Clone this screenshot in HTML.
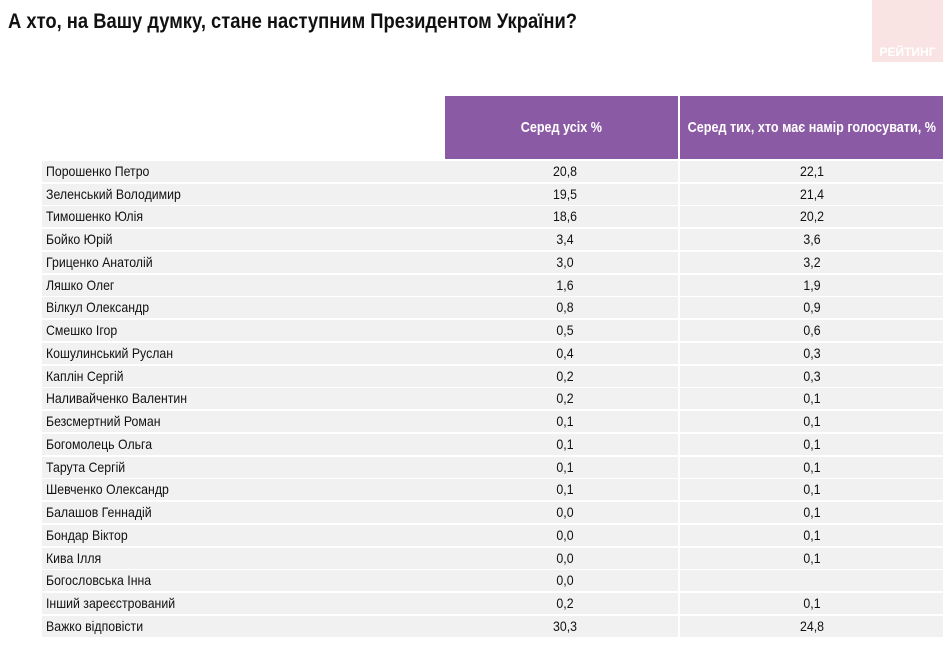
<!DOCTYPE html>
<html><head><meta charset="utf-8"><style>
body{margin:0;width:951px;height:645px;overflow:hidden;background:#fff;position:relative;font-family:"Liberation Sans",sans-serif;}
.t{position:absolute;left:8px;top:10px;font-size:21px;font-weight:bold;color:#111;white-space:nowrap;transform:scaleX(0.875);transform-origin:left top;}
.logo{position:absolute;left:872px;top:0;width:71px;height:62px;background:#f9e3e3;}
.logo span{position:absolute;bottom:3px;left:0;width:71px;text-align:center;color:#fff;font-weight:bold;font-size:12px;}
.h{position:absolute;top:96px;height:63px;background:#8b5aa5;color:#fff;font-size:15px;font-weight:bold;display:flex;align-items:center;justify-content:center;white-space:nowrap;}
.h span{display:inline-block;transform:scaleX(0.84);}
.r{position:absolute;left:42px;width:901px;height:21px;background:#f1f1f1;font-size:14px;color:#111;}
.r div{position:absolute;top:2px;white-space:nowrap;}
.n{left:4px;transform:scaleX(0.88);transform-origin:left top;}
.a{left:403px;width:240px;text-align:center;transform:scaleX(0.88);}
.b{left:639px;width:262px;text-align:center;transform:scaleX(0.88);}
.s{position:absolute;left:678px;width:2px;background:#fff;}
</style></head><body>
<div class="t">А хто, на Вашу думку, стане наступним Президентом України?</div>
<div class="logo"><span>РЕЙТИНГ</span></div>
<div class="h" style="left:445px;width:233px"><span>Серед усіх %</span></div>
<div class="h" style="left:680px;width:263px"><span>Серед тих, хто має намір голосувати, %</span></div>
<div class="r" style="top:161px"><div class="n">Порошенко Петро</div><div class="a">20,8</div><div class="b">22,1</div></div>
<div class="r" style="top:184px"><div class="n">Зеленський Володимир</div><div class="a">19,5</div><div class="b">21,4</div></div>
<div class="r" style="top:206px"><div class="n">Тимошенко Юлія</div><div class="a">18,6</div><div class="b">20,2</div></div>
<div class="r" style="top:229px"><div class="n">Бойко Юрій</div><div class="a">3,4</div><div class="b">3,6</div></div>
<div class="r" style="top:252px"><div class="n">Гриценко Анатолій</div><div class="a">3,0</div><div class="b">3,2</div></div>
<div class="r" style="top:275px"><div class="n">Ляшко Олег</div><div class="a">1,6</div><div class="b">1,9</div></div>
<div class="r" style="top:297px"><div class="n">Вілкул Олександр</div><div class="a">0,8</div><div class="b">0,9</div></div>
<div class="r" style="top:320px"><div class="n">Смешко Ігор</div><div class="a">0,5</div><div class="b">0,6</div></div>
<div class="r" style="top:343px"><div class="n">Кошулинський Руслан</div><div class="a">0,4</div><div class="b">0,3</div></div>
<div class="r" style="top:366px"><div class="n">Каплін Сергій</div><div class="a">0,2</div><div class="b">0,3</div></div>
<div class="r" style="top:388px"><div class="n">Наливайченко Валентин</div><div class="a">0,2</div><div class="b">0,1</div></div>
<div class="r" style="top:411px"><div class="n">Безсмертний Роман</div><div class="a">0,1</div><div class="b">0,1</div></div>
<div class="r" style="top:434px"><div class="n">Богомолець Ольга</div><div class="a">0,1</div><div class="b">0,1</div></div>
<div class="r" style="top:457px"><div class="n">Тарута Сергій</div><div class="a">0,1</div><div class="b">0,1</div></div>
<div class="r" style="top:479px"><div class="n">Шевченко Олександр</div><div class="a">0,1</div><div class="b">0,1</div></div>
<div class="r" style="top:502px"><div class="n">Балашов Геннадій</div><div class="a">0,0</div><div class="b">0,1</div></div>
<div class="r" style="top:525px"><div class="n">Бондар Віктор</div><div class="a">0,0</div><div class="b">0,1</div></div>
<div class="r" style="top:548px"><div class="n">Кива Ілля</div><div class="a">0,0</div><div class="b">0,1</div></div>
<div class="r" style="top:570px"><div class="n">Богословська Інна</div><div class="a">0,0</div><div class="b"></div></div>
<div class="r" style="top:593px"><div class="n">Інший зареєстрований</div><div class="a">0,2</div><div class="b">0,1</div></div>
<div class="r" style="top:616px"><div class="n">Важко відповісти</div><div class="a">30,3</div><div class="b">24,8</div></div>
<div class="s" style="top:159px;height:480px"></div>
</body></html>
